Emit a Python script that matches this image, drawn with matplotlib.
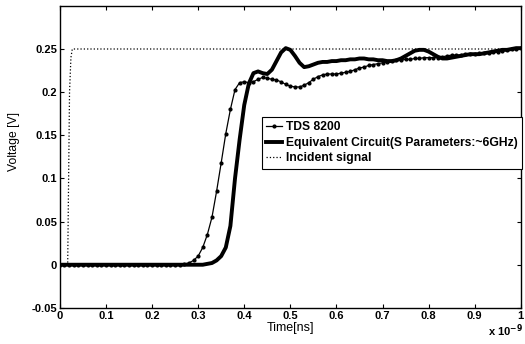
import numpy as np
import matplotlib
matplotlib.use('Agg')
import matplotlib.pyplot as plt
from matplotlib.ticker import FuncFormatter

plt.rcParams['font.family'] = ['Liberation Sans', 'DejaVu Sans']

# Time axis (x 1e-9 s) and measured / simulated voltages
t_step = [round(0.01 * i, 2) for i in range(101)]

tds_8200 = [
    0.0, 0.0, 0.0, 0.0, 0.0, 0.0, 0.0, 0.0, 0.0, 0.0,
    0.0, 0.0, 0.0, 0.0, 0.0, 0.0, 0.0, 0.0, 0.0, 0.0,
    0.0, 0.0, 0.0, 0.0, 0.0, 0.0, 0.0, 0.001, 0.002, 0.005,
    0.010, 0.020, 0.035, 0.055, 0.085, 0.118, 0.152, 0.180, 0.203, 0.211,
    0.212, 0.211, 0.212, 0.215, 0.217, 0.216, 0.215, 0.214, 0.212, 0.209,
    0.207, 0.206, 0.206, 0.208, 0.211, 0.215, 0.218, 0.220, 0.221, 0.221,
    0.221, 0.222, 0.223, 0.224, 0.226, 0.228, 0.229, 0.231, 0.232, 0.233,
    0.234, 0.235, 0.236, 0.237, 0.237, 0.238, 0.238, 0.239, 0.239, 0.240,
    0.240, 0.240, 0.240, 0.241, 0.242, 0.243, 0.243, 0.243, 0.244, 0.244,
    0.244, 0.245, 0.245, 0.245, 0.246, 0.247, 0.248, 0.249, 0.250, 0.250,
    0.251,
]

equiv_circuit = [
    0.0, 0.0, 0.0, 0.0, 0.0, 0.0, 0.0, 0.0, 0.0, 0.0,
    0.0, 0.0, 0.0, 0.0, 0.0, 0.0, 0.0, 0.0, 0.0, 0.0,
    0.0, 0.0, 0.0, 0.0, 0.0, 0.0, 0.0, 0.0, 0.0, 0.0,
    0.0, 0.0, 0.001, 0.002, 0.005, 0.010, 0.020, 0.045, 0.100, 0.145,
    0.185, 0.210, 0.222, 0.224, 0.222, 0.221, 0.226, 0.236, 0.246, 0.251,
    0.249, 0.242, 0.234, 0.229, 0.230, 0.232, 0.234, 0.235, 0.235, 0.236,
    0.236, 0.237, 0.237, 0.238, 0.238, 0.239, 0.239, 0.238, 0.238, 0.237,
    0.237, 0.236, 0.236, 0.237, 0.239, 0.242, 0.245, 0.248, 0.249, 0.249,
    0.247, 0.244, 0.241, 0.239, 0.239, 0.240, 0.241, 0.242, 0.243, 0.244,
    0.244, 0.244, 0.245, 0.246, 0.247, 0.248, 0.249, 0.249, 0.250, 0.251,
    0.251,
]

t_incident = [0.0, 0.017, 0.019, 0.021, 0.024, 0.027, 1.0]
incident = [0.0, 0.0, 0.1, 0.2, 0.24, 0.25, 0.25]

legend_labels = ['TDS 8200', 'Equivalent Circuit(S Parameters:~6GHz)', 'Incident signal']

fig = plt.figure(figsize=(5.25, 3.44), dpi=100)
ax = fig.add_axes([0.114, 0.105, 0.878, 0.878])

ax.plot(t_step, tds_8200, color='black', linewidth=0.9, marker='.', markersize=4,
        label=legend_labels[0])
ax.plot(t_step, equiv_circuit, color='black', linewidth=2.8, label=legend_labels[1])
ax.plot(t_incident, incident, color='black', linewidth=0.9, linestyle=':',
        label=legend_labels[2])

ax.set_xlim(0, 1)
ax.set_ylim(-0.05, 0.3)
ax.set_xticks(np.arange(0, 1.01, 0.1))
ax.set_yticks([-0.05, 0, 0.05, 0.1, 0.15, 0.2, 0.25])
fmt = FuncFormatter(lambda v, p: '%g' % round(v, 2))
ax.xaxis.set_major_formatter(fmt)
ax.yaxis.set_major_formatter(fmt)
ax.tick_params(direction='in', top=True, right=True, length=3, width=0.8,
               labelsize=8, pad=2)
for lab in ax.get_xticklabels() + ax.get_yticklabels():
    lab.set_fontweight('bold')
for s in ax.spines.values():
    s.set_linewidth(1.0)

ax.set_xlabel('Time[ns]', fontsize=9, labelpad=1)
ax.set_ylabel('Voltage [V]', fontsize=8.7)
ax.yaxis.set_label_coords(-0.087, 0.55)
fig.text(0.997, 0.015, r'x 10$^{\mathbf{-9}}$', fontsize=8, fontweight='bold',
         ha='right', va='bottom')

leg = ax.legend(loc='upper left', bbox_to_anchor=(0.439, 0.632), fancybox=False,
                edgecolor='black', framealpha=1, handlelength=1.3, handletextpad=0.3,
                borderpad=0.35, labelspacing=0.3, borderaxespad=0,
                prop={'weight': 'bold', 'size': 8.7})
leg.get_frame().set_linewidth(0.8)

fig.savefig('out.png', dpi=100)
